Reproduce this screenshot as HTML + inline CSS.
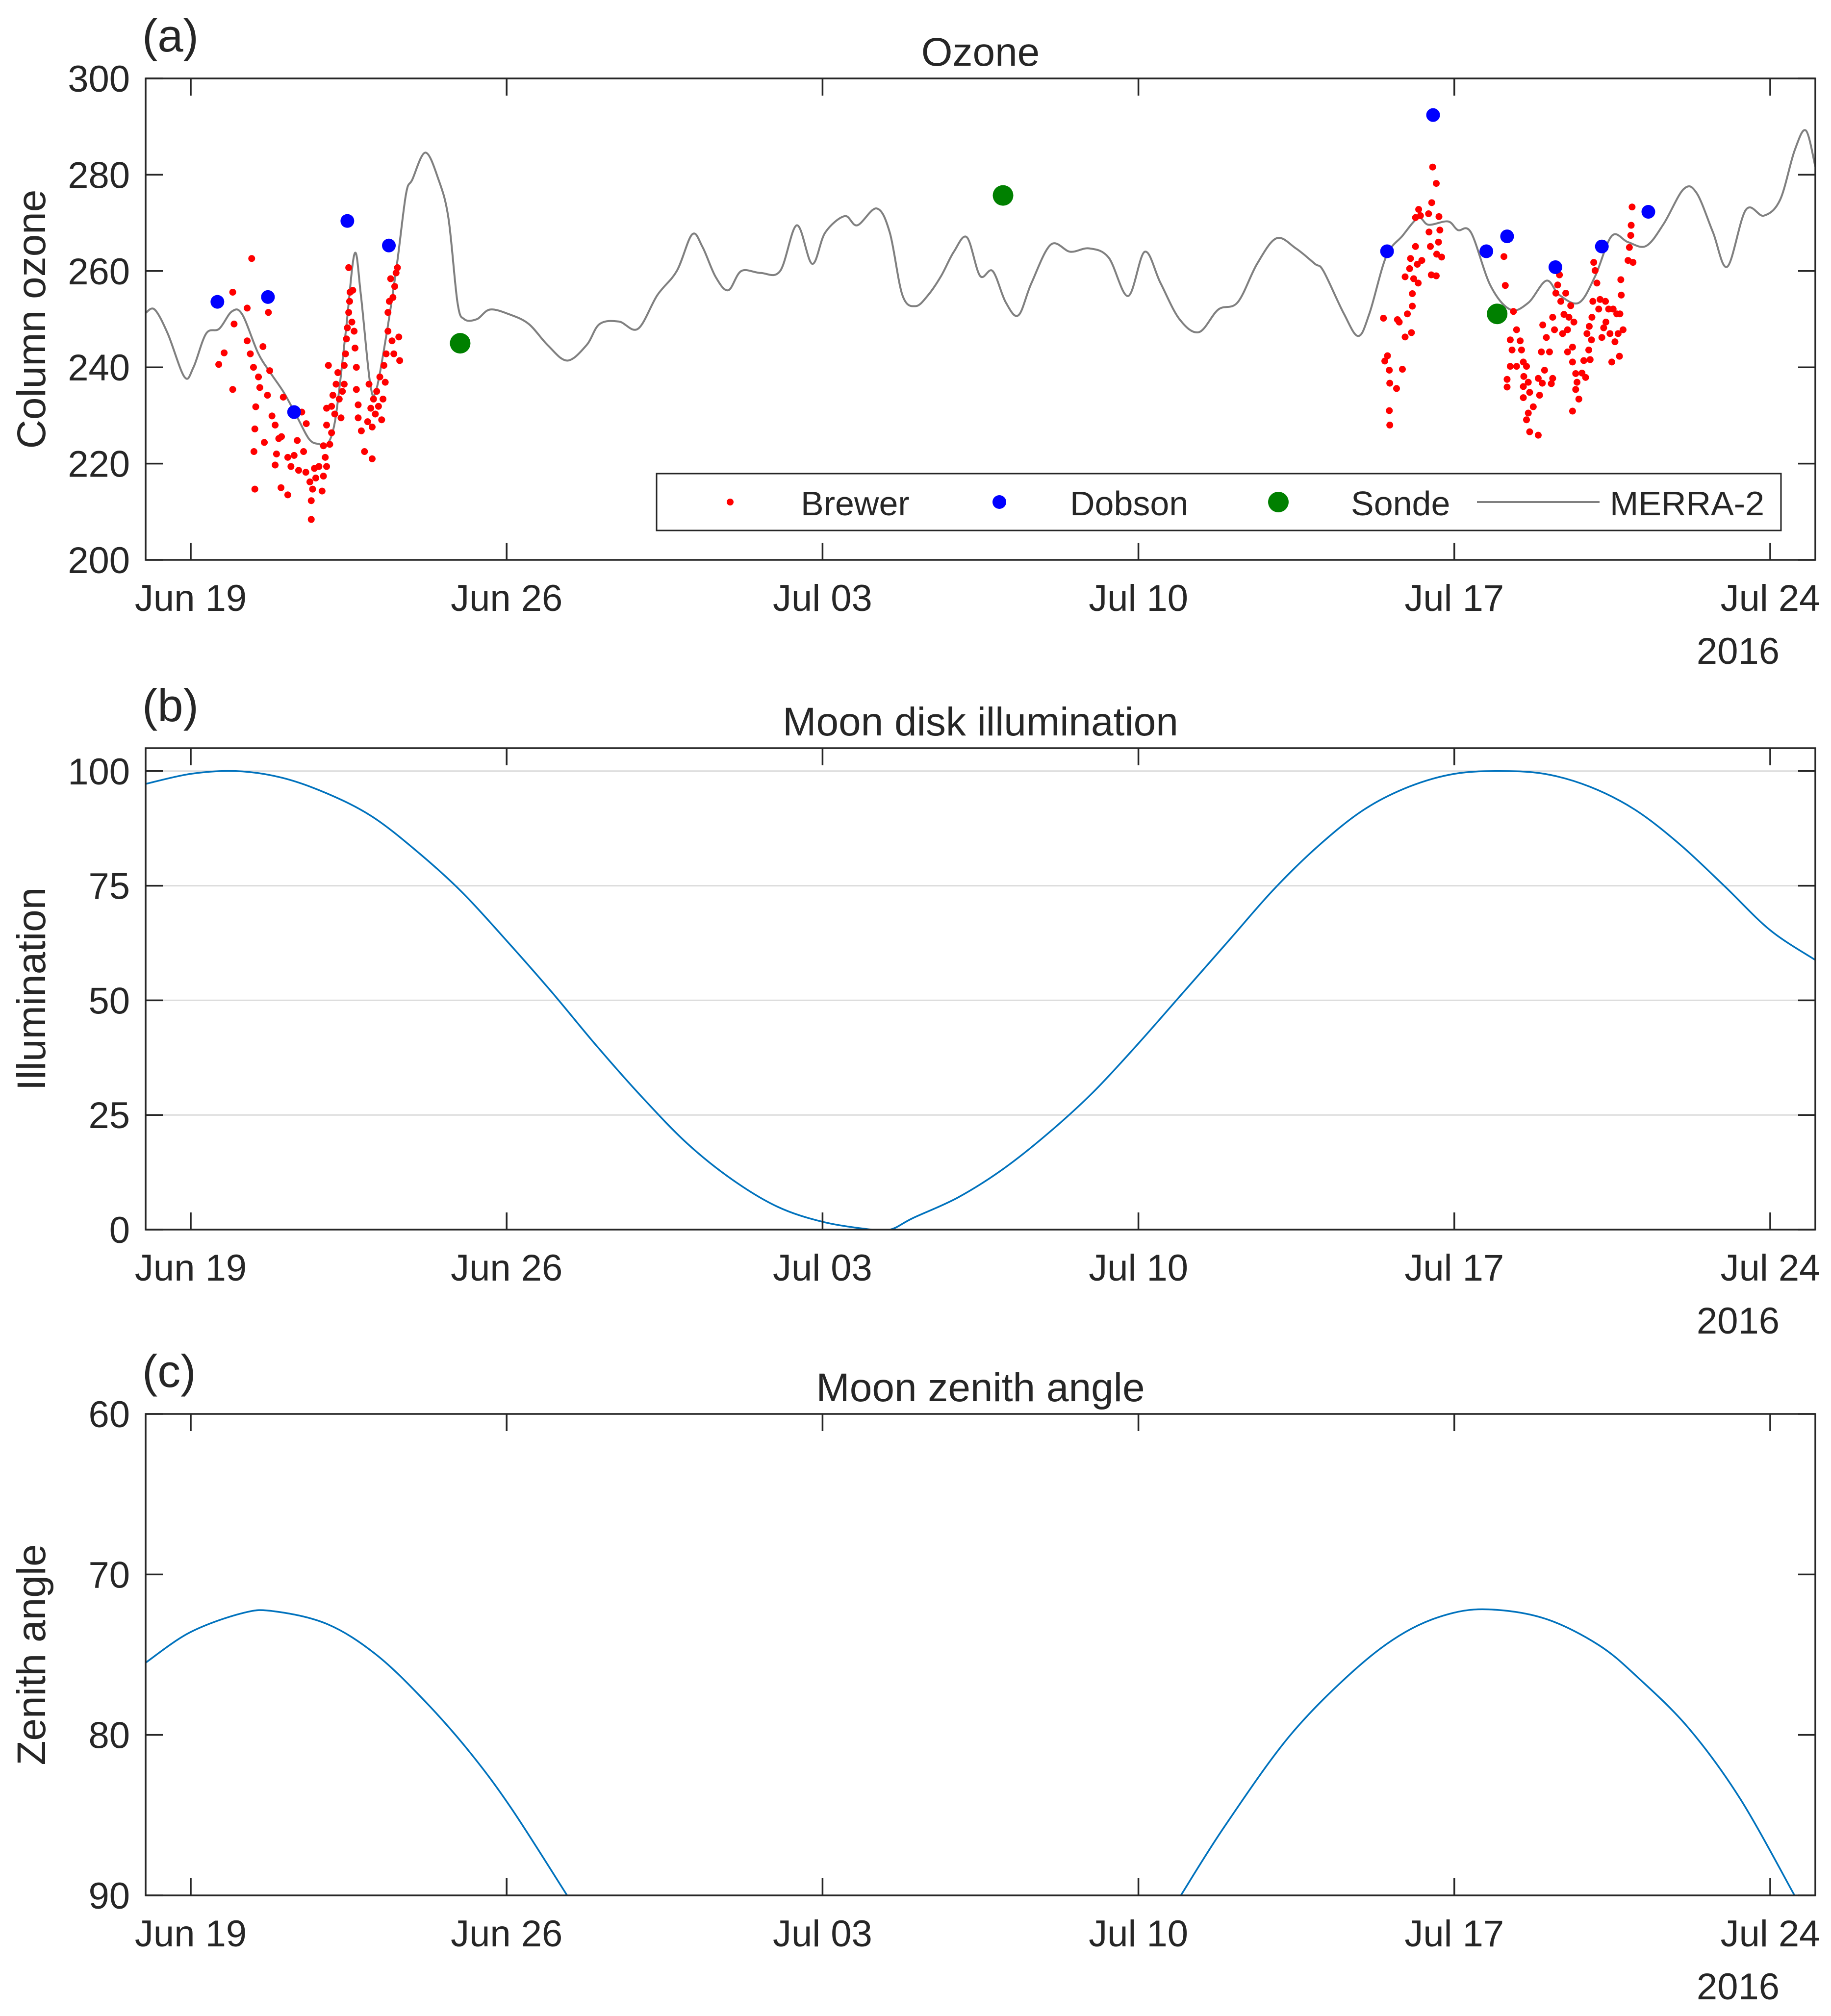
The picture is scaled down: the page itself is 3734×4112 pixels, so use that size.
<!DOCTYPE html>
<html><head><meta charset="utf-8"><style>
html,body{margin:0;padding:0;background:#fff}
svg{display:block}
text{font-family:"Liberation Sans",Arial,sans-serif;fill:#262626}
</style></head><body>
<svg id="chart" width="3734" height="4112" viewBox="0 0 3734 4112" xmlns="http://www.w3.org/2000/svg"></svg>
<script>
// ---------- data (days since Jun 18 00:00, 2016) ----------
const xTickLabels = ["Jun 19","Jun 26","Jul 03","Jul 10","Jul 17","Jul 24"];
const xTickDays = [1,8,15,22,29,36];
const ozoneTicks = [200,220,240,260,280,300];
const illumTicks = [0,25,50,75,100];
const zenithTicks = [60,70,80,90];

const merraDays = [0,0.2,0.49,0.86,1.06,1.34,1.63,1.91,2.14,2.49,2.77,3.06,3.34,3.63,3.86,4.0,4.2,4.43,4.63,4.77,4.97,5.1,5.34,5.57,5.77,5.91,6.2,6.49,6.71,6.91,7.06,7.34,7.63,8.06,8.49,8.91,9.34,9.77,10.06,10.49,10.91,11.34,11.77,12.11,12.34,12.63,12.91,13.2,13.63,14.06,14.43,14.77,15.06,15.49,15.77,16.2,16.49,16.77,17.06,17.34,17.63,17.91,18.2,18.49,18.77,19.06,19.34,19.63,20.06,20.49,20.91,21.34,21.77,22.14,22.49,22.91,23.34,23.77,24.2,24.63,25.06,25.49,25.91,26.1,26.55,26.87,27.12,27.49,27.85,28.2,28.43,28.86,29.08,29.37,29.8,30.24,30.64,31.04,31.33,31.76,32.12,32.49,32.85,33.25,33.64,34.08,34.37,34.73,35.05,35.46,35.86,36.22,36.54,36.79,37];
const merraValues = [251.3,252,247,238,240,247,248,251.6,251,243,238.8,234.8,230,225,224,223.6,229,247,263.6,255,237,235,247,261.5,276,279,284.6,279,271,253.5,250,250,252,251,249,244.6,241.4,244.6,249,249.5,248,255,260,267.6,265,258.8,256,260,259.6,260,269.5,261.5,268,271.4,269.5,273,268,255,252.7,255,259,264,267,259,260,253.5,250.8,257.5,265.5,264,264.7,262.8,254.8,264,257.5,250,247.3,252,253.5,261.5,266.8,264.7,261.5,260,251.2,246.5,251.2,263,267.3,271,269.6,270.3,268.5,268,257,252,253.4,258,255,253.4,258.9,267.3,266,265.2,269.8,277,276.2,268.1,260.9,272.7,271.5,274.8,285,289.2,281.7];

const brewerDays = [1.62,1.74,1.93,1.93,2.35,2.72,1.96,2.25,2.25,2.32,2.39,2.5,2.53,2.44,2.42,2.4,2.42,2.6,2.63,2.7,2.75,2.8,2.87,2.9,2.87,3.0,3.15,3.05,3.01,2.95,3.15,3.22,3.29,3.36,3.39,3.46,3.5,3.56,3.55,3.64,3.67,3.67,3.7,3.74,3.77,3.84,3.91,3.94,3.98,3.94,4.01,4.01,4.08,4.12,4.05,4.01,4.12,4.15,4.19,4.22,4.26,4.29,4.33,4.36,4.4,4.4,4.43,4.45,4.47,4.5,4.52,4.53,4.5,4.57,4.59,4.62,4.64,4.67,4.67,4.71,4.71,4.78,4.85,4.92,4.95,4.99,5.02,5.02,5.05,5.09,5.12,5.16,5.19,5.23,5.26,5.28,5.31,5.33,5.37,5.37,5.4,5.43,5.46,5.48,5.5,5.52,5.55,5.58,5.61,5.63,
27.43,27.46,27.52,27.56,27.57,27.56,27.57,27.72,27.74,27.78,27.85,27.91,27.96,27.91,28.01,28.03,28.05,28.07,28.07,28.1,28.14,28.18,28.2,28.21,28.25,28.28,28.43,28.44,28.47,28.49,28.5,28.52,28.6,28.61,28.6,28.65,28.66,28.68,28.72,28.14,
30.1,30.13,30.31,30.38,30.24,30.46,30.28,30.49,30.24,30.38,30.53,30.6,30.17,30.17,30.54,30.64,30.53,30.67,30.53,30.75,30.64,30.6,30.67,30.86,30.89,30.86,30.95,31.0,31.04,30.93,30.96,31.11,31.15,31.18,31.18,31.22,31.25,31.29,31.33,31.36,31.4,31.43,31.47,31.51,31.51,31.54,31.58,31.62,31.62,31.65,31.69,31.69,31.72,31.76,31.62,31.83,31.87,31.91,31.94,31.98,31.99,32.01,32.04,32.05,32.07,32.09,32.12,32.16,32.2,32.23,32.27,32.31,32.35,32.36,32.42,32.45,32.49,32.52,32.56,32.6,32.63,32.66,32.67,32.7,32.74,32.69,32.85,32.88,32.91,32.92,32.94,32.96,32.92];
const brewerValues = [240.6,243,235.4,255.6,262.6,251.4,249,252.3,245.5,242.8,240,238,235.8,231.8,227.2,222.5,214.7,244.3,224.4,234.2,239.3,229.9,228,222,219.7,215,213.5,233.8,225.6,225.2,221.3,219.4,221.7,224.8,218.6,230.7,222.5,228.3,218.2,216.2,212.3,208.4,214.7,219,217,219.4,214.3,217.4,221.3,223.7,219.4,228,224,226.4,240.4,231.5,231.9,234.2,230.3,236.5,238.9,233.4,229.5,235,240.4,236.5,242.8,245.9,248.2,251.4,253.7,255.6,260.7,249.4,256,247.5,244,240,235.4,232.2,229.5,226.8,222.5,228.7,236.5,231.5,227.6,221,233.4,230.3,235,231.9,238,229.1,233.4,240.4,236.9,242.8,247.5,251.4,253.7,258.4,245.5,254.5,242.8,256.8,259.6,260.7,246.3,241.4,
250.2,241.3,242.4,239.4,236.7,231,228,235.6,249.9,249.4,239.6,246.3,251.1,258.8,260.5,262.6,247.2,255.3,252.7,258.4,265.1,261.4,257.5,272.8,271.5,262.2,271.9,268.1,265.1,259.2,274.2,281.6,278.2,263.5,259,266,271.3,268.5,262.9,271.1,
263,257,251.6,247.8,245.7,245.5,243.6,243.6,240.2,240.2,241.1,240.2,237.5,235.9,238.1,236.9,236,234.8,233.7,231.8,230.5,229.1,226.6,225.9,234.2,237.7,236.7,239.4,246.2,243.2,248.8,243.2,236.6,237.7,250.4,247.8,255.4,257.1,259.2,253.7,247,251,255.4,243.2,247.8,250.4,252.8,241.1,244.2,249.4,238.7,235.4,236.9,233.4,230.9,238.8,241.4,237.9,247,243.6,248.5,241.6,245.7,250.4,253.7,261.8,260.1,257.5,252.1,254.1,246.2,248.2,253.7,249.4,252.1,247,241.1,252.1,245.3,251.1,247,242.3,251.1,255,247.8,258.2,262.2,264.9,267.4,269.5,273.3,261.8];

const dobsonDays = [1.59,2.71,3.29,4.47,5.39,27.51,28.53,29.71,30.17,31.24,32.27,33.3];
const dobsonValues = [253.6,254.6,230.7,270.4,265.3,264.1,292.4,264.1,267.2,260.8,265.1,272.3];
const sondeDays = [6.97,19.0,29.95];
const sondeValues = [245,275.7,251.1];

const illumDays = [0,1,2,3,4,5,6,7,8,9,10,11,12,13,14,15,16,16.5,17,18,19,20,21,22,23,24,25,26,27,28,29,30,31,32,33,34,35,36,37];
const illumValues = [97.2,99.4,100,98.6,95.2,90.2,82.6,73.7,63,51.8,40,28.9,18.8,10.9,5,1.7,0.1,0,2.5,7,13.2,21,30,40.6,51.8,63,74.2,83.8,91.6,96.6,99.4,100,99.4,96.6,91.6,84,74.8,65.3,58.8];

const zenith1Days = [0,0.99,2.16,2.86,4.03,5.11,6.19,7.19,8.11,9.34];
const zenith1Values = [75.5,73.6,72.4,72.3,73.1,75,77.9,81.1,84.6,90];
const zenith2Days = [22.94,23.91,25.34,26.77,27.91,28.97,29.91,31.06,32.2,33.06,34.2,35.34,36.54];
const zenith2Values = [90,85.7,80.1,76.0,73.6,72.4,72.2,72.8,74.4,76.4,79.6,84,90];

// ---------- drawing ----------
const NS = "http://www.w3.org/2000/svg";
const svg = document.getElementById('chart');
function mk(tag, attrs, parent){
  const e = document.createElementNS(NS, tag);
  for (const k in attrs) e.setAttribute(k, attrs[k]);
  (parent||svg).appendChild(e); return e;
}
const L = 297, R = 3702, X0 = 0, X1 = 37;
const xs = d => L + (d - X0) / (X1 - X0) * (R - L);
const AX = "#262626";

function makeAxes(name, top, bot, y0, y1, reversed){
  const ys = v => reversed ? top + (v - y0)/(y1 - y0)*(bot-top) : bot - (v - y0)/(y1 - y0)*(bot-top);
  const g = mk('g', {});
  
  
  const clip = mk('clipPath', {id: name+'-clip'}, g);
  mk('rect', {x:L, y:top, width:R-L, height:bot-top}, clip);
  return {g, ys, top, bot};
}
function frame(ax, yTicks, yLabels){
  const g = mk('g', {}, ax.g);
  
  
  mk('rect', {x:L, y:ax.top, width:R-L, height:ax.bot-ax.top, fill:'none', stroke:AX, 'stroke-width':3.5}, g);
  xTickDays.forEach((d,i) => {
    const x = xs(d);
    mk('line', {x1:x, x2:x, y1:ax.bot, y2:ax.bot-35, stroke:AX, 'stroke-width':3.5}, g);
    mk('line', {x1:x, x2:x, y1:ax.top, y2:ax.top+35, stroke:AX, 'stroke-width':3.5}, g);
    const t = mk('text', {x:x, y:ax.bot+104, 'font-size':76, 'text-anchor':'middle'}, ax.g);
    t.textContent = xTickLabels[i];
    
    
  });
  const yr = mk('text', {x:3629, y:ax.bot+212, 'font-size':76, 'text-anchor':'end'}, ax.g);
  yr.textContent = '2016';
  
  
  yTicks.forEach((v,i) => {
    const y = ax.ys(v);
    mk('line', {x1:L, x2:L+35, y1:y, y2:y, stroke:AX, 'stroke-width':3.5}, g);
    mk('line', {x1:R, x2:R-35, y1:y, y2:y, stroke:AX, 'stroke-width':3.5}, g);
    const t = mk('text', {x:265, y:y+27, 'font-size':76, 'text-anchor':'end'}, ax.g);
    t.textContent = yLabels[i];
    
    
  });
}
function titles(ax, title, panel, ylabel){
  const t = mk('text', {x:(L+R)/2, y:ax.top-26, 'font-size':82, 'text-anchor':'middle'}, ax.g);
  t.textContent = title;
  
  
  const p = mk('text', {x:290, y:ax.top-55, 'font-size':94, 'fill':'#000'}, ax.g);
  p.textContent = panel;
  
  
  const cy = (ax.top+ax.bot)/2;
  const yl = mk('text', {x:0, y:0, 'font-size':82, 'text-anchor':'middle', transform:`translate(92,${cy}) rotate(-90)`}, ax.g);
  yl.textContent = ylabel;
  
  
}
function smoothPath(days, vals, ys){
  const p = days.map((d,i)=>[xs(d), ys(vals[i])]);
  let s = `M${p[0][0]},${p[0][1]}`;
  for (let i=0;i<p.length-1;i++){
    const p0=p[Math.max(0,i-1)], p1=p[i], p2=p[i+1], p3=p[Math.min(p.length-1,i+2)];
    const c1=[p1[0]+(p2[0]-p0[0])/6, p1[1]+(p2[1]-p0[1])/6];
    const c2=[p2[0]-(p3[0]-p1[0])/6, p2[1]-(p3[1]-p1[1])/6];
    s += ` C${c1[0]},${c1[1]} ${c2[0]},${c2[1]} ${p2[0]},${p2[1]}`;
  }
  return s;
}

// ---- Panel (a) ----
const A = makeAxes('ozone-panel', 160, 1142, 200, 300, false);
{
  const plot = mk('g', {'clip-path':'url(#ozone-panel-clip)'}, A.g);
  const ml = mk('path', {d:smoothPath(merraDays, merraValues, A.ys), fill:'none', stroke:'#808080', 'stroke-width':4}, plot);
  
  
  const bg = mk('g', {}, plot);
  
  
  brewerDays.forEach((d,i)=>{
    const c = mk('circle', {cx:xs(d), cy:A.ys(brewerValues[i]), r:7, fill:'#ff0000'}, bg);
    
    
  });
  dobsonDays.forEach((d,i)=>{
    const c = mk('circle', {cx:xs(d), cy:A.ys(dobsonValues[i]), r:14, fill:'#0000ff'}, plot);
    
    
  });
  sondeDays.forEach((d,i)=>{
    const c = mk('circle', {cx:xs(d), cy:A.ys(sondeValues[i]), r:21, fill:'#008000'}, plot);
    
    
  });
}
frame(A, ozoneTicks, ozoneTicks.map(String));
titles(A, 'Ozone', '(a)', 'Column ozone');
{
  const lg = mk('g', {}, A.g);
  
  
  mk('rect', {x:1339, y:966, width:2293, height:116, fill:'#fff', stroke:AX, 'stroke-width':3}, lg);
  const ty = 1051;
  mk('circle', {cx:1489, cy:1024, r:7, fill:'#ff0000'}, lg);
  mk('circle', {cx:2038, cy:1024, r:14, fill:'#0000ff'}, lg);
  mk('circle', {cx:2607, cy:1024, r:21, fill:'#008000'}, lg);
  mk('line', {x1:3012, x2:3262, y1:1024, y2:1024, stroke:'#808080', 'stroke-width':4}, lg);
  [['Brewer',1633],['Dobson',2182],['Sonde',2755],['MERRA-2',3283]].forEach(([s,x])=>{
    const t = mk('text', {x:x, y:ty, 'font-size':70, fill:'#000'}, lg);
    t.textContent = s;
    
    
  });
}

// ---- Panel (b) ----
const B = makeAxes('illumination-panel', 1526, 2508, 0, 105, false);
{
  illumTicks.slice(1).forEach(v=>{
    const gl = mk('line', {x1:L, x2:R, y1:B.ys(v), y2:B.ys(v), stroke:'#dcdcdc', 'stroke-width':3}, B.g);
    
    
  });
  const plot = mk('g', {'clip-path':'url(#illumination-panel-clip)'}, B.g);
  const pl = mk('path', {d:smoothPath(illumDays, illumValues, B.ys), fill:'none', stroke:'#0072bd', 'stroke-width':3.5}, plot);
  
  
}
frame(B, illumTicks, illumTicks.map(String));
titles(B, 'Moon disk illumination', '(b)', 'Illumination');

// ---- Panel (c) ----
const C = makeAxes('zenith-panel', 2884, 3866, 60, 90, true);
{
  const plot = mk('g', {'clip-path':'url(#zenith-panel-clip)'}, C.g);
  const z1 = mk('path', {d:smoothPath(zenith1Days, zenith1Values, C.ys), fill:'none', stroke:'#0072bd', 'stroke-width':3.5}, plot);
  
  
  const z2 = mk('path', {d:smoothPath(zenith2Days, zenith2Values, C.ys), fill:'none', stroke:'#0072bd', 'stroke-width':3.5}, plot);
  
  
}
frame(C, zenithTicks, zenithTicks.map(String));
titles(C, 'Moon zenith angle', '(c)', 'Zenith angle');
</script>
</body></html>
